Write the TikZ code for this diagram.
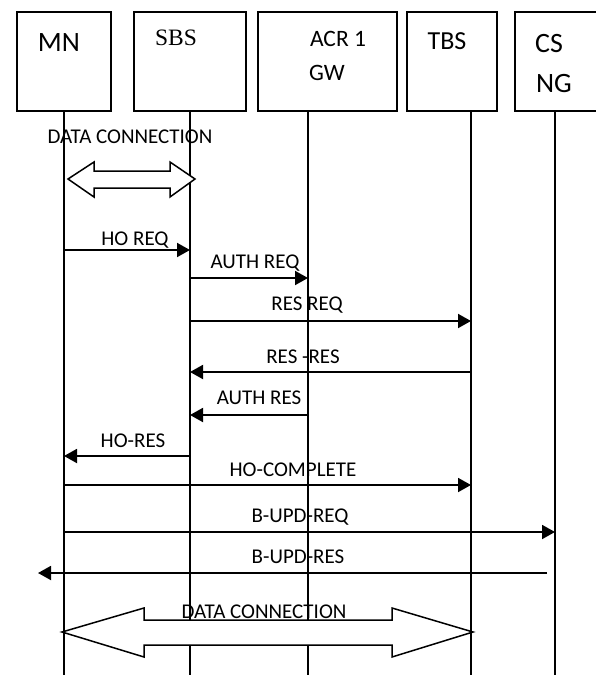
\documentclass[tikz,border=0pt]{standalone}
\usepackage{fontspec}
\setmainfont{Carlito}
\newfontfamily\sbsfont{Liberation Serif}
\usetikzlibrary{arrows.meta}

\begin{document}
\begin{tikzpicture}[x=1pt,y=-1pt,>={Triangle[length=13pt,width=14pt]},
  box/.style={draw, line width=1.5pt, inner sep=0pt},
  life/.style={line width=1.5pt},
  msg/.style={line width=1.9pt},
  lbl/.style={anchor=base, inner sep=0pt, font=\fontsize{21}{25}\selectfont},
  head/.style={anchor=base, inner sep=0pt, font=\fontsize{#1}{#1}\selectfont},
  blockarrow/.style={draw, fill=white, line width=1.5pt}]
\useasboundingbox (0,0) rectangle (595,675);

% entity boxes
\node[box, minimum width=94pt, minimum height=99pt] (mnbox) at (64,61.5) {};
\node[box, minimum width=112pt, minimum height=99pt] (sbsbox) at (190,61.5) {};
\node[box, minimum width=139pt, minimum height=99pt] (acrbox) at (327.5,61.5) {};
\node[box, minimum width=90pt, minimum height=99pt] (tbsbox) at (452,61.5) {};
\node[box, minimum width=84pt, minimum height=99pt] (csbox) at (557,61.5) {};

\node[head=28] (mntext) at (59,51) {MN};
\node[head=23.5] (sbstext) at (176,45) {\sbsfont SBS};
\node[head=23.5] (acrtext) at (338,46) {ACR 1};
\node[head=23.5] (gwtext) at (327,80) {GW};
\node[head=26] (tbstext) at (447,49) {TBS};
\node[head=28] (cstext) at (549,52) {CS};
\node[head=28] (ngtext) at (554,92) {NG};

% lifelines
\coordinate (mn) at (mnbox.south);
\coordinate (sbs) at (sbsbox.south);
\coordinate (acr) at (308,111);
\coordinate (tbs) at (471,111);
\coordinate (cs) at (555,111);

\draw[life] (mn) -- (mn |- 0,675);
\draw[life] (sbs) -- (sbs |- 0,675);
\draw[life] (acr) -- (acr |- 0,675);
\draw[life] (tbs) -- (tbs |- 0,675);
\draw[life] (cs) -- (cs |- 0,675);

% data connection before handover
\node[lbl] (data1) at (130,143) {DATA CONNECTION};
\draw[blockarrow] (68,179) -- (94,162) -- (94,171) -- (170,171) -- (170,162) -- (195,179)
  -- (170,197) -- (170,188) -- (94,188) -- (94,197) -- cycle;

% messages
\node[lbl] (horeq) at (135,245) {HO REQ};
\draw[msg,->] (mn |- 0,250) -- (sbs |- 0,250);

\node[lbl] (authreq) at (255,268) {AUTH REQ};
\draw[msg,->] (sbs |- 0,278) -- (acr |- 0,278);

\node[lbl] (resreq) at (307,310) {RES REQ};
\draw[msg,->] (sbs |- 0,321) -- (tbs |- 0,321);

\node[lbl] (resres) at (303,363) {RES -RES};
\draw[msg,->] (tbs |- 0,372) -- (sbs |- 0,372);

\node[lbl] (authres) at (259,404) {AUTH RES};
\draw[msg,->] (acr |- 0,415) -- (sbs |- 0,415);

\node[lbl] (hores) at (133,447) {HO-RES};
\draw[msg,->] (sbs |- 0,456) -- (mn |- 0,456);

\node[lbl] (hocomplete) at (293,476) {HO-COMPLETE};
\draw[msg,->] (mn |- 0,485) -- (tbs |- 0,485);

\node[lbl] (bupdreq) at (300,522) {B-UPD-REQ};
\draw[msg,->] (mn |- 0,532) -- (cs |- 0,532);

\node[lbl] (bupdres) at (298,563) {B-UPD-RES};
\coordinate (bupdfrom) at (547,573);
\coordinate (bupdto) at (38,573);
\draw[msg,->] (bupdfrom) -- (bupdto);

% data connection after handover
\draw[blockarrow] (62,632) -- (144,608) -- (144,620) -- (392,620) -- (392,608) -- (473,632)
  -- (392,657) -- (392,645) -- (144,645) -- (144,657) -- cycle;
\node[lbl] (data2) at (264,618) {DATA CONNECTION};
\end{tikzpicture}
\end{document}
